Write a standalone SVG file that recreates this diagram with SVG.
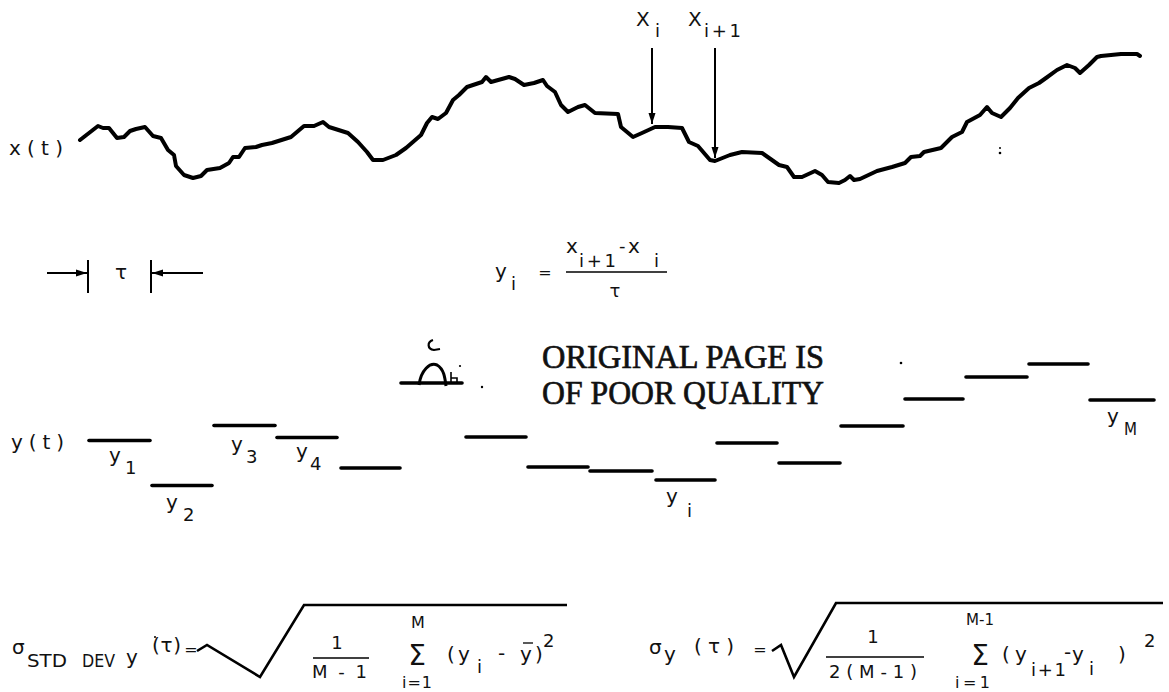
<svg xmlns="http://www.w3.org/2000/svg" width="1169" height="692" viewBox="0 0 1169 692">
<style>
  .t{font-family:"DejaVu Sans","Liberation Sans",sans-serif;font-size:20px;fill:#111;}
  .s{font-family:"DejaVu Sans","Liberation Sans",sans-serif;font-size:18px;fill:#111;}
  .lim{font-family:"DejaVu Sans","Liberation Sans",sans-serif;font-size:16px;fill:#111;}
  .eq{font-family:"DejaVu Sans","Liberation Sans",sans-serif;font-size:16px;fill:#111;}
  .big{font-family:"DejaVu Sans","Liberation Sans",sans-serif;font-size:28px;fill:#111;}
  .stamp{font-family:"Liberation Serif","DejaVu Serif",serif;font-size:34px;fill:#111;stroke:#111;stroke-width:0.7;}
  .curve{fill:none;stroke:#000;stroke-width:4;stroke-linejoin:round;stroke-linecap:round;}
  .seg{stroke:#000;stroke-width:3.6;stroke-linecap:round;}
  .ln{stroke:#000;stroke-width:2;fill:none;}
  .bar{stroke:#000;stroke-width:1.6;}
  .rad{fill:none;stroke:#000;stroke-width:2.6;stroke-linejoin:miter;}
</style>
<defs>
  <marker id="ah" markerUnits="userSpaceOnUse" markerWidth="12" markerHeight="8" refX="11" refY="4" orient="auto">
    <path d="M0,0.5 L11,4 L0,7.5 z" fill="#000"/>
  </marker>
</defs>
<rect width="1169" height="692" fill="#fff"/>

<g id="signal-x">
  <polyline class="curve" points="80,140 98,126 103,128 109,128 117,138 124,137 130,131 136,129 145,127 153,136 161,138 168,150 174,155 176,166 184,175 193,178 201,176 207,170 220,168 229,163 233,157 239,157 245,148 256,147 262,145 272,143 291,137 304,126 314,126 323,122 329,127 348,133 358,142 367,152 373,160 383,160 396,155 406,148 421,135 427,123 432,117 438,119 446,113 453,100 459,95 467,87 482,82 486,77 491,82 509,77 515,79 524,85 534,83 543,80 547,86 555,92 561,105 568,112 578,107 585,105 595,113 618,114 621,127 633,137 642,133 655,127 668,127 682,128 689,142 698,146 710,160 715,161 730,155 742,152 762,153 779,165 787,167 794,177 802,177 815,171 822,175 828,182 839,183 845,180 850,176 854,180 860,179 877,171 892,167 905,163 911,157 920,156 924,152 941,148 952,137 962,132 967,122 980,115 987,107 992,113 1001,117 1010,108 1018,98 1029,88 1039,83 1046,78 1057,70 1067,65 1075,68 1080,73 1089,65 1097,57 1101,56 1121,54 1137,54 1140,56"/>
  <text class="t" x="9" y="155" textLength="54" lengthAdjust="spacing">x(t)</text>
</g>

<g id="label-xi">
  <text class="t" x="636" y="26">X</text>
  <text class="s" x="655" y="37">i</text>
</g>
<g id="label-xi1">
  <text class="t" x="688" y="26">X</text>
  <text class="s" x="704" y="37" textLength="37" lengthAdjust="spacing">i+1</text>
</g>

<g id="connectors">
  <line class="ln" x1="652" y1="48" x2="652" y2="124" marker-end="url(#ah)"/>
  <line class="ln" x1="715" y1="48" x2="715" y2="158" marker-end="url(#ah)"/>
  <line class="ln" x1="47" y1="273" x2="87" y2="273" marker-end="url(#ah)"/>
  <line class="ln" x1="203" y1="273" x2="152" y2="273" marker-end="url(#ah)"/>
</g>

<g id="tau-interval">
  <line class="ln" x1="88" y1="260" x2="88" y2="293"/>
  <line class="ln" x1="151" y1="260" x2="151" y2="293"/>
  <text class="t" x="121" y="279" text-anchor="middle">τ</text>
</g>

<g id="formula-yi">
  <text class="t" x="495" y="278">y</text>
  <text class="s" x="511" y="290">i</text>
  <text class="eq" x="545" y="278" text-anchor="middle">=</text>
  <line class="bar" x1="566" y1="272" x2="667" y2="272"/>
  <text class="t" x="566" y="253">x</text>
  <text class="s" x="579" y="267" textLength="37" lengthAdjust="spacing">i+1</text>
  <text class="s" x="619" y="252">-</text>
  <text class="t" x="628" y="253">x</text>
  <text class="s" x="654" y="267">i</text>
  <text class="s" x="615" y="297" text-anchor="middle">τ</text>
</g>

<g id="stamp">
  <text class="stamp" x="542" y="368" textLength="282" lengthAdjust="spacingAndGlyphs">ORIGINAL PAGE IS</text>
  <text class="stamp" x="542" y="404" textLength="282" lengthAdjust="spacingAndGlyphs">OF POOR QUALITY</text>
  <path d="M433,340 C427,342 427,349 434,350 L440,349" fill="none" stroke="#000" stroke-width="2.2"/>
  <path d="M419,385 C421,370 430,362 437,365 C444,369 445,378 446,386" fill="none" stroke="#000" stroke-width="3"/>
  <path d="M451,372 L451,384 M451,378 L457,378 L457,384" fill="none" stroke="#000" stroke-width="1.6"/>
  <circle cx="460" cy="366" r="1.1" fill="#000"/>
  <circle cx="482" cy="387" r="1.2" fill="#000"/>
  <circle cx="901" cy="363" r="1.3" fill="#000"/>
  <circle cx="1000" cy="148" r="1" fill="#000"/>
  <circle cx="1000" cy="153" r="1.3" fill="#000"/>
</g>

<g id="signal-y">
  <text class="t" x="11" y="449" textLength="53" lengthAdjust="spacing">y(t)</text>
  <line class="seg" x1="89" y1="440.5" x2="150" y2="440.5"/>
  <line class="seg" x1="152" y1="485.5" x2="212" y2="485.5"/>
  <line class="seg" x1="214" y1="425.5" x2="275" y2="425.5"/>
  <line class="seg" x1="277" y1="437.5" x2="337" y2="437.5"/>
  <line class="seg" x1="341" y1="468" x2="400" y2="468"/>
  <line class="seg" x1="401" y1="383" x2="462" y2="383"/>
  <line class="seg" x1="466" y1="437" x2="526" y2="437"/>
  <line class="seg" x1="528" y1="467" x2="588" y2="467"/>
  <line class="seg" x1="590" y1="471" x2="652" y2="471"/>
  <line class="seg" x1="656" y1="480" x2="715" y2="480"/>
  <line class="seg" x1="717" y1="443" x2="777" y2="443"/>
  <line class="seg" x1="779" y1="463" x2="840" y2="463"/>
  <line class="seg" x1="841" y1="426" x2="903" y2="426"/>
  <line class="seg" x1="905" y1="399" x2="963" y2="399"/>
  <line class="seg" x1="966" y1="377" x2="1027" y2="377"/>
  <line class="seg" x1="1029" y1="364" x2="1088" y2="364"/>
  <line class="seg" x1="1090" y1="400" x2="1154" y2="400"/>
</g>

<g id="labels-y">
  <text class="t" x="109" y="462">y</text><text class="s" x="125" y="474">1</text>
  <text class="t" x="166" y="509">y</text><text class="s" x="183" y="521">2</text>
  <text class="t" x="231" y="451">y</text><text class="s" x="246" y="463">3</text>
  <text class="t" x="296" y="458">y</text><text class="s" x="310" y="470">4</text>
  <text class="t" x="666" y="503">y</text><text class="s" x="687" y="517">i</text>
  <text class="t" x="1107" y="423">y</text><text class="s" x="1124" y="435" textLength="13" lengthAdjust="spacingAndGlyphs">M</text>
</g>

<g id="formula-stddev">
  <text class="t" x="12" y="654">σ</text>
  <text class="s" x="27" y="667" textLength="40" lengthAdjust="spacingAndGlyphs">STD</text>
  <text class="s" x="82" y="667" textLength="33" lengthAdjust="spacingAndGlyphs">DEV</text>
  <text class="t" x="126" y="664">y</text>
  <text class="t" x="152" y="652" textLength="29" lengthAdjust="spacing">(τ)</text>
  <circle cx="155" cy="637" r="1" fill="#000"/>
  <text class="eq" x="191" y="655" text-anchor="middle">=</text>
  <path class="rad" d="M197,651 L207,645 L260,677 L304,605 L567,605"/>
  <text class="s" x="337" y="649" text-anchor="middle">1</text>
  <line class="bar" x1="313" y1="658" x2="369" y2="658"/>
  <text class="s" x="312" y="678" textLength="55" lengthAdjust="spacing">M-1</text>
  <text class="lim" x="418" y="628" text-anchor="middle">M</text>
  <text class="big" x="417" y="665" text-anchor="middle">Σ</text>
  <text class="lim" x="402" y="688" textLength="30" lengthAdjust="spacing">i=1</text>
  <text class="t" x="447" y="661">(</text>
  <text class="t" x="458" y="661">y</text>
  <text class="s" x="477" y="673">i</text>
  <text class="t" x="498" y="660">-</text>
  <text class="t" x="520" y="661">y</text>
  <line x1="523" y1="643" x2="533" y2="643" stroke="#000" stroke-width="1.3"/>
  <text class="t" x="535" y="661">)</text>
  <text class="s" x="543" y="647">2</text>
</g>

<g id="formula-allan">
  <text class="t" x="649" y="654">σ</text>
  <text class="t" x="664" y="661">y</text>
  <text class="t" x="694" y="653" textLength="40" lengthAdjust="spacing">(τ)</text>
  <text class="eq" x="760" y="655" text-anchor="middle">=</text>
  <path class="rad" d="M772,651 L781,645 L794,677 L836,603 L1163,603"/>
  <text class="s" x="873" y="643" text-anchor="middle">1</text>
  <line class="bar" x1="826" y1="657" x2="924" y2="657"/>
  <text class="s" x="829" y="678" textLength="88" lengthAdjust="spacing">2(M-1)</text>
  <text class="lim" x="966" y="625" textLength="28" lengthAdjust="spacingAndGlyphs">M-1</text>
  <text class="big" x="980" y="665" text-anchor="middle">Σ</text>
  <text class="lim" x="955" y="688" textLength="35" lengthAdjust="spacing">i=1</text>
  <text class="t" x="1002" y="661">(</text>
  <text class="t" x="1015" y="661">y</text>
  <text class="s" x="1031" y="676" textLength="35" lengthAdjust="spacing">i+1</text>
  <text class="t" x="1064" y="659">-</text>
  <text class="t" x="1072" y="661">y</text>
  <text class="s" x="1089" y="675">i</text>
  <text class="t" x="1118" y="661">)</text>
  <text class="s" x="1144" y="647">2</text>
</g>
</svg>
